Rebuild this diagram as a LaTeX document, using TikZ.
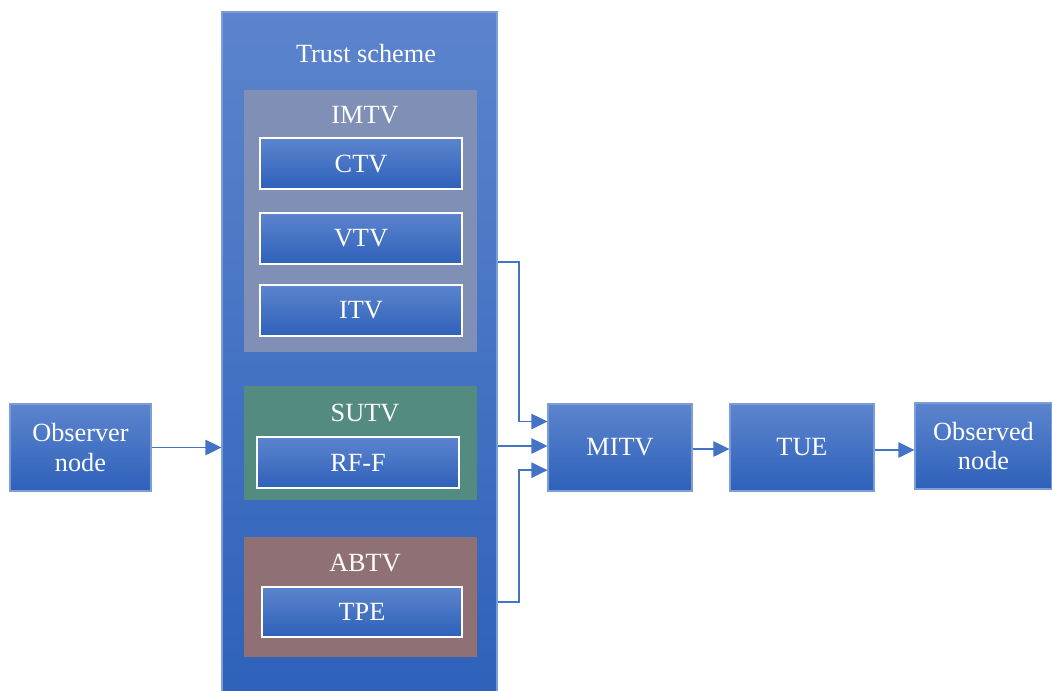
\documentclass[tikz,border=0pt]{standalone}
\usepackage{fontspec}
\setmainfont{Liberation Serif}
\usetikzlibrary{arrows.meta,calc}
\definecolor{blueTop}{HTML}{5C84CD}
\definecolor{blueBot}{HTML}{2E61BA}
\definecolor{lineBlue}{HTML}{4472C4}
\definecolor{imtvFill}{HTML}{7F8FB5}
\definecolor{sutvFill}{HTML}{538B80}
\definecolor{abtvFill}{HTML}{8F7175}
\tikzset{
  x=0.75pt, y=-0.75pt,
  txt/.style={font=\fontsize{19.7}{22.3}\selectfont, text=white, align=center, inner sep=0pt},
  gbox/.style={rectangle, inner sep=0pt, top color=blueTop, bottom color=blueBot, draw=blueTop!80!white, line width=0.8pt, txt},
  wbox/.style={gbox, draw=white, line width=1pt},
  group/.style={rectangle, inner sep=0pt, draw=none},
  sz/.style 2 args={minimum width=#1*0.75pt, minimum height=#2*0.75pt},
  link/.style={draw=lineBlue, line width=1.1pt, -{Triangle[length=12pt,width=11.5pt]}},
}
\begin{document}
\begin{tikzpicture}
\useasboundingbox (0,0) rectangle (1052,690);
% container for the trust scheme
\node[gbox, sz={275}{690}] (scheme) at (359.5,357) {};
\node[txt] (schemetitle) at (366,54) {Trust scheme};
% IMTV group
\node[group, fill=imtvFill, sz={233}{262}] (imtv) at (360.5,221) {};
\node[txt] (imtvt) at (365,115) {IMTV};
\node[wbox, sz={202}{51}] (ctv) at (361,163.5) {CTV};
\node[wbox, sz={202}{51}] (vtv) at (361,238.5) {VTV};
\node[wbox, sz={202}{51}] (itv) at (361,310.5) {ITV};
% SUTV group
\node[group, fill=sutvFill, sz={233}{114}] (sutv) at (360.5,443) {};
\node[txt] (sutvt) at (365,413) {SUTV};
\node[wbox, sz={202}{51}] (rff) at (358,462.5) {RF-F};
% ABTV group
\node[group, fill=abtvFill, sz={233}{120}] (abtv) at (360.5,597) {};
\node[txt] (abtvt) at (365,563) {ABTV};
\node[wbox, sz={200}{50}] (tpe) at (362,612) {TPE};
% outer nodes
\node[gbox, sz={141}{87}] (observer) at (80.5,447.5) {Observer\\node};
\node[gbox, sz={144}{87}] (mitv) at (620,447.5) {MITV};
\node[gbox, sz={144}{87}] (tue) at (802,447.5) {TUE};
\node[gbox, sz={137}{86}] (observed) at (983.5,446) {Observed\\node};
% connectors
\coordinate (tapA) at (scheme.east |- 0,262);
\coordinate (tapB) at (scheme.east |- 0,446);
\coordinate (tapC) at (scheme.east |- 0,602);
\coordinate (bendX) at (519,0);
\draw[link] (observer.east) -- (observer.east -| scheme.west);
\draw[link] (tapA) -- (tapA -| bendX) |- ([yshift=19.5pt]mitv.west);
\draw[link] (tapB) -- (tapB -| mitv.west);
\draw[link] (tapC) -- (tapC -| bendX) |- ([yshift=-17pt]mitv.west);
\draw[link] (mitv.east |- 0,449) -- (tue.west |- 0,449);
\draw[link] (tue.east |- 0,450) -- (observed.west |- 0,450);
\end{tikzpicture}
\end{document}
